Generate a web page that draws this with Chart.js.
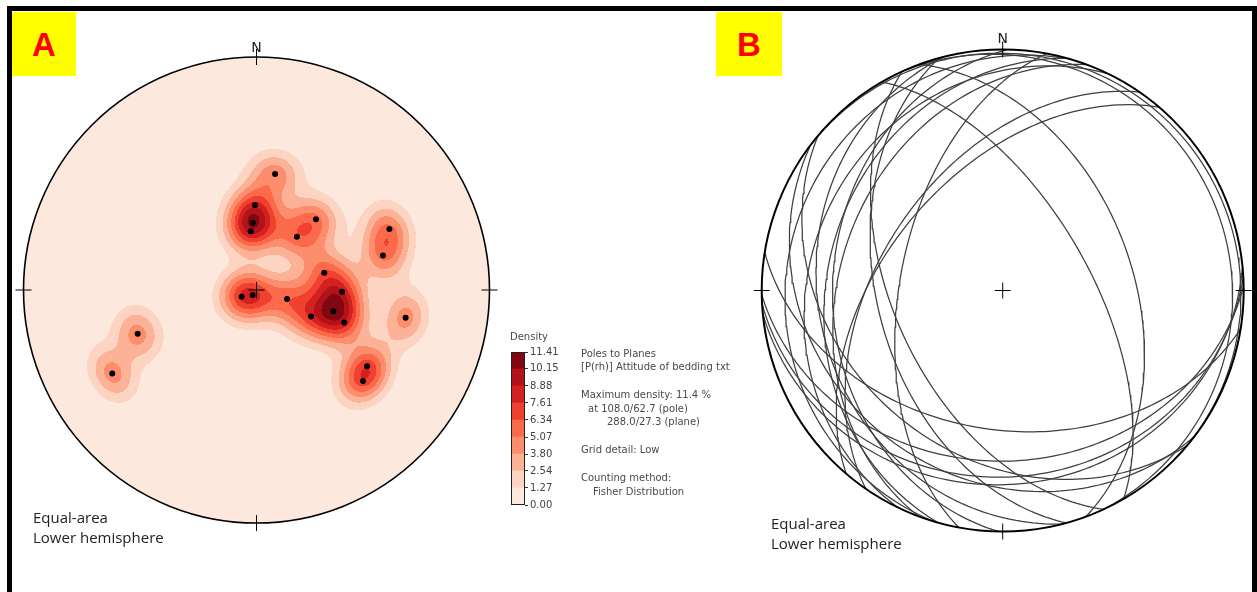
<!DOCTYPE html>
<html>
<head>
<meta charset="utf-8">
<script src="https://cdn.jsdelivr.net/npm/chart.js@4"></script>
<style>
body{margin:0;width:1257px;height:592px;background:#fff;position:relative;overflow:hidden;font-family:"DejaVu Sans",sans-serif;}
canvas{position:absolute;}
.frame{position:absolute;left:7px;top:6px;width:1250px;height:640px;border:5px solid #000;box-sizing:border-box;}
.tag{position:absolute;top:12px;height:64px;background:#ffff00;color:#ff0000;font:bold 33px "Liberation Sans",sans-serif;text-align:center;line-height:66px;}
.t{position:absolute;white-space:nowrap;font-size:10px;line-height:12px;color:#4a4a4a;}
.foot{position:absolute;white-space:nowrap;font-family:"Open Sans",sans-serif;font-size:15px;line-height:20px;color:#222;}
</style>
</head>
<body>
<div class="frame"></div>
<div class="tag" style="left:12px;width:64px;">A</div>
<div class="tag" style="left:716px;width:66px;">B</div>

<canvas id="netA" width="510" height="540" style="left:0;top:20px;"></canvas>
<canvas id="netB" width="517" height="540" style="left:740px;top:20px;"></canvas>
<canvas id="cbar" width="70" height="175" style="left:505px;top:340px;"></canvas>

<div class="t" style="left:510px;top:331px;">Density</div>
<div class="t" style="left:581px;top:348px;">Poles to Planes</div>
<div class="t" style="left:581px;top:361px;">[P(rh)] Attitude of bedding txt</div>
<div class="t" style="left:581px;top:389px;">Maximum density: 11.4 %</div>
<div class="t" style="left:588px;top:403px;">at 108.0/62.7 (pole)</div>
<div class="t" style="left:607px;top:416px;">288.0/27.3 (plane)</div>
<div class="t" style="left:581px;top:444px;">Grid detail: Low</div>
<div class="t" style="left:581px;top:472px;">Counting method:</div>
<div class="t" style="left:593px;top:486px;">Fisher Distribution</div>

<div class="foot" style="left:33px;top:507px;">Equal-area<br>Lower hemisphere</div>
<div class="foot" style="left:771px;top:513px;">Equal-area<br>Lower hemisphere</div>

<script>
// poles to bedding planes (trend / plunge, degrees)
const poleTrend  = [9.1, 359.0, 356.8, 354.4, 40.0, 37.2, 65.3, 74.7, 75.7, 91.1, 245.6,
                    217.0, 106.4, 105.5, 115.8, 110.4, 100.5, 124.6, 130.5, 249.8, 239.9];
const polePlunge = [48.2, 60.1, 66.4, 69.4, 57.4, 66.6, 37.3, 43.1, 65.5, 59.9, 84.3,
                    87.8, 78.9, 62.0, 68.8, 57.0, 35.2, 41.9, 39.7, 44.8, 29.2];

// density contour levels (%) and colours
const levels = [0.00, 1.27, 2.54, 3.80, 5.07, 6.34, 7.61, 8.88, 10.15, 11.41];
const levelColors = ['#fde8de', '#fdd4c2', '#fcb297', '#fc8e6e', '#fb6a4a',
                     '#f04030', '#d32020', '#b21218', '#830711'];
const maxDensity = 11.41;
const kappa = 90;

function rad(d) { return d * Math.PI / 180; }
function lineVec(trend, plunge) {
  const t = rad(trend), p = rad(plunge);
  return [Math.sin(t) * Math.cos(p), Math.cos(t) * Math.cos(p), Math.sin(p)];
}
// equal-area (Schmidt) lower hemisphere
function project(v) {
  let [e, n, z] = v;
  if (z < 0) { e = -e; n = -n; z = -z; }
  const f = 1 / Math.sqrt(1 + z);
  return { x: e * f, y: n * f };
}

const poleVecs = poleTrend.map((t, i) => lineVec(t, polePlunge[i]));
const polePoints = poleVecs.map(project);

// great circle of the plane belonging to each pole
function greatCircle(trend, plunge) {
  const dipDir = trend + 180, dip = 90 - plunge;
  const s = [Math.sin(rad(dipDir - 90)), Math.cos(rad(dipDir - 90)), 0];
  const d = lineVec(dipDir, dip);
  const pts = [];
  for (let a = 0; a <= 180; a += 1.5) {
    const c = Math.cos(rad(a)), sn = Math.sin(rad(a));
    pts.push(project([c * s[0] + sn * d[0], c * s[1] + sn * d[1], c * s[2] + sn * d[2]]));
  }
  return pts;
}

function hexRgb(h) {
  return [parseInt(h.slice(1, 3), 16), parseInt(h.slice(3, 5), 16), parseInt(h.slice(5, 7), 16)];
}

const densityPlugin = {
  id: 'density',
  beforeDatasetsDraw(chart) {
    const { ctx, scales: { x: sx, y: sy } } = chart;
    const cx = sx.getPixelForValue(0), cy = sy.getPixelForValue(0);
    const R = sx.getPixelForValue(1) - cx;
    const x0 = Math.floor(cx - R) - 1, y0 = Math.floor(cy - R) - 1;
    const w = Math.ceil(2 * R) + 3, h = w;
    const vals = new Float32Array(w * h).fill(-1);
    let mx = 0;
    for (let j = 0; j < h; j++) {
      for (let i = 0; i < w; i++) {
        const x = sx.getValueForPixel(x0 + i + 0.5), y = sy.getValueForPixel(y0 + j + 0.5);
        const r2 = x * x + y * y;
        if (r2 > 1) continue;
        const z = 1 - r2, hh = Math.sqrt(Math.max(0, 1 - z * z)), r = Math.sqrt(r2);
        const e = r > 0 ? x / r * hh : 0, n = r > 0 ? y / r * hh : 0;
        let s = 0;
        for (const p of poleVecs) {
          s += Math.exp(kappa * (Math.abs(e * p[0] + n * p[1] + z * p[2]) - 1));
        }
        vals[j * w + i] = s;
        if (s > mx) mx = s;
      }
    }
    const k = maxDensity / mx;
    const rgb = levelColors.map(hexRgb);
    const img = ctx.createImageData(w, h);
    for (let q = 0; q < w * h; q++) {
      if (vals[q] < 0) continue;
      const v = vals[q] * k;
      let li = 0;
      while (li < levelColors.length - 1 && v >= levels[li + 1]) li++;
      img.data[q * 4] = rgb[li][0];
      img.data[q * 4 + 1] = rgb[li][1];
      img.data[q * 4 + 2] = rgb[li][2];
      img.data[q * 4 + 3] = 255;
    }
    ctx.putImageData(img, x0, y0);
  }
};

const netPlugin = {
  id: 'net',
  afterDatasetsDraw(chart, args, opts) {
    const { ctx, scales: { x: sx, y: sy } } = chart;
    const cx = sx.getPixelForValue(0), cy = sy.getPixelForValue(0);
    const R = sx.getPixelForValue(1) - cx;
    ctx.save();
    ctx.strokeStyle = '#000';
    ctx.lineWidth = opts.width || 1.5;
    ctx.beginPath();
    ctx.arc(cx, cy, R, 0, Math.PI * 2);
    ctx.stroke();
    ctx.lineWidth = 1;
    const t = 8;
    ctx.beginPath();
    ctx.moveTo(cx - t, cy); ctx.lineTo(cx + t, cy);
    ctx.moveTo(cx, cy - t); ctx.lineTo(cx, cy + t);
    ctx.moveTo(cx, cy - R - t); ctx.lineTo(cx, cy - R + t);
    ctx.moveTo(cx, cy + R - t); ctx.lineTo(cx, cy + R + t);
    ctx.moveTo(cx - R - t, cy); ctx.lineTo(cx - R + t, cy);
    ctx.moveTo(cx + R - t, cy); ctx.lineTo(cx + R + t, cy);
    ctx.stroke();
    ctx.fillStyle = '#222';
    ctx.font = '14px "DejaVu Sans"';
    ctx.textAlign = 'center';
    ctx.textBaseline = 'alphabetic';
    ctx.fillText('N', cx, cy - R - (opts.nGap || 5));
    ctx.restore();
  }
};

const netScales = {
  x: { type: 'linear', min: -1, max: 1, display: false },
  y: { type: 'linear', min: -1, max: 1, display: false }
};

new Chart(document.getElementById('netA'), {
  type: 'scatter',
  data: {
    datasets: [{
      data: polePoints,
      pointRadius: 3,
      pointBackgroundColor: '#000',
      pointBorderWidth: 0,
      clip: false
    }]
  },
  options: {
    responsive: false,
    animation: false,
    events: [],
    layout: { padding: { left: 23.5, right: 20.5, top: 37, bottom: 37 } },
    scales: netScales,
    plugins: { legend: { display: false }, tooltip: { enabled: false }, net: { width: 1.6, nGap: 5 } }
  },
  plugins: [densityPlugin, netPlugin]
});

new Chart(document.getElementById('netB'), {
  type: 'scatter',
  data: {
    datasets: poleTrend.map((t, i) => ({
      data: greatCircle(t, polePlunge[i]),
      showLine: true,
      pointRadius: 0,
      borderColor: '#3f3f3f',
      borderWidth: 1.25,
      clip: false
    }))
  },
  options: {
    responsive: false,
    animation: false,
    events: [],
    layout: { padding: { left: 21.7, right: 13.3, top: 29.5, bottom: 28.5 } },
    scales: netScales,
    plugins: { legend: { display: false }, tooltip: { enabled: false }, net: { width: 2, nGap: 7 } }
  },
  plugins: [netPlugin]
});

// colour bar
const barFrame = {
  id: 'barFrame',
  afterDatasetsDraw(chart) {
    const a = chart.chartArea, ctx = chart.ctx;
    ctx.save();
    ctx.strokeStyle = '#222';
    ctx.lineWidth = 1;
    ctx.strokeRect(a.left + 0.5, a.top + 0.5, a.right - a.left - 1, a.bottom - a.top - 1);
    ctx.restore();
  }
};

new Chart(document.getElementById('cbar'), {
  type: 'bar',
  data: {
    labels: [''],
    datasets: levelColors.map((c, i) => ({
      data: [levels[i + 1] - levels[i]],
      backgroundColor: c,
      borderWidth: 0,
      barPercentage: 1,
      categoryPercentage: 1
    }))
  },
  options: {
    responsive: false,
    animation: false,
    events: [],
    layout: { padding: { left: 6, right: 15, top: 12, bottom: 10 } },
    scales: {
      x: { stacked: true, display: false },
      y: {
        stacked: true,
        position: 'right',
        min: 0,
        max: maxDensity,
        afterBuildTicks: s => { s.ticks = levels.map(v => ({ value: v })); },
        afterFit: s => { s.width = 35; },
        ticks: {
          autoSkip: false,
          callback: v => v.toFixed(2),
          font: { family: 'DejaVu Sans', size: 10 },
          color: '#444',
          padding: 2
        },
        grid: { drawOnChartArea: false, tickLength: 3, color: '#333' },
        border: { display: false }
      }
    },
    plugins: { legend: { display: false }, tooltip: { enabled: false } }
  },
  plugins: [barFrame]
});
</script>
</body>
</html>
